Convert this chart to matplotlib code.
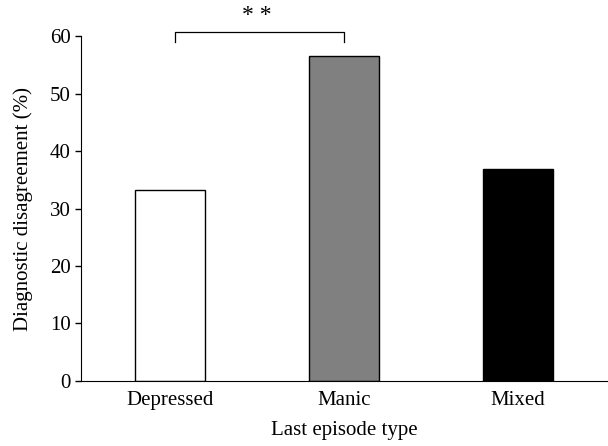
import numpy as np
import matplotlib.pyplot as plt

plt.rcParams['font.family'] = 'Liberation Serif'

# Données
categories = ['Depressed', 'Manic', 'Mixed']
valeurs = [33.3, 56.5, 36.8]
couleurs = ['white', '#808080', 'black']

fig = plt.figure(figsize=(6.08, 4.46), dpi=100)
ax = fig.add_axes([0.133, 0.146, 0.865, 0.773])

x = np.arange(len(categories))
ax.bar(x, valeurs, width=0.4, color=couleurs, edgecolor='black', linewidth=1)

ax.set_xlim(-0.51, 2.51)
ax.set_ylim(0, 60)
ax.set_yticks([0, 10, 20, 30, 40, 50, 60])
ax.set_xticks(x)
ax.set_xticklabels(categories)
ax.tick_params(axis='x', length=0, labelsize=15, pad=7)
ax.tick_params(axis='y', direction='out', length=4, labelsize=15, width=1)
ax.spines['top'].set_visible(False)
ax.spines['right'].set_visible(False)
ax.set_xlabel('Last episode type', fontsize=15, labelpad=8)
ax.set_ylabel('Diagnostic disagreement (%)', fontsize=15, labelpad=12)

# Crochet de significativité
y0, y1 = 59.0, 60.8
ax.plot([0.03, 0.03, 1.0, 1.0], [y0, y1, y1, y0], color='black', linewidth=0.9, clip_on=False)
ax.text(0.5, 63.6, '* *', ha='center', va='center', fontsize=17)

fig.savefig('out.png', dpi=100)
